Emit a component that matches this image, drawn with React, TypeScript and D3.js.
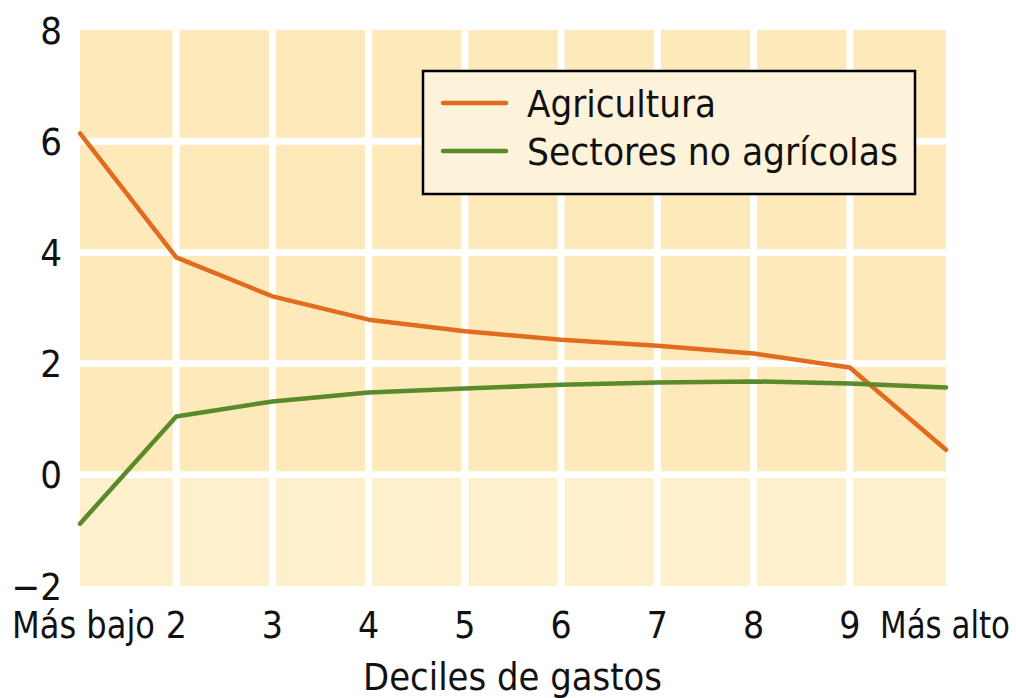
import React from 'react';
import * as d3 from 'd3';

const deciles = ['Más bajo', '2', '3', '4', '5', '6', '7', '8', '9', 'Más alto'];
const agricultura = [6.14, 3.91, 3.21, 2.79, 2.58, 2.43, 2.32, 2.18, 1.93, 0.45];
const noAgricolas = [-0.88, 1.05, 1.32, 1.48, 1.55, 1.62, 1.66, 1.68, 1.64, 1.57];
const yTicks = [8, 6, 4, 2, 0, -2];
const seriesNames = ['Agricultura', 'Sectores no agrícolas'];
const seriesColors = ['#e36b20', '#5a8a2b'];

const W = 1016;
const H = 698;
const margin = { top: 30, right: 70, bottom: 112, left: 80 };
const FONT = 'DejaVu Sans, sans-serif';

// widths of the condensed type in the reference, used to squeeze the text
const legendWidths = [189, 371];

export default function App() {
  const innerW = W - margin.left - margin.right;
  const innerH = H - margin.top - margin.bottom;

  const x = d3.scalePoint<string>().domain(deciles).range([0, innerW]);
  const y = d3.scaleLinear().domain([-2, 8]).range([innerH, 0]);

  const line = d3.line<number>()
    .x((_, i) => x(deciles[i]) as number)
    .y(d => y(d));

  const series = [agricultura, noAgricolas];
  const fmt = (v: number) => (v < 0 ? '\u2212' + Math.abs(v) : String(v));
  const textStyle = { fontFamily: FONT, fontStretch: 'condensed' as const };

  return (
    <div style={{ position: 'absolute', left: 0, top: 0 }}>
      <svg width={W} height={H} style={{ display: 'block', background: '#fff' }}>
        <g transform={`translate(${margin.left},${margin.top})`}>
          {/* fondo: más oscuro arriba de cero */}
          <rect x={0} y={0} width={innerW} height={y(0)} fill="#fde9b9" />
          <rect x={0} y={y(0)} width={innerW} height={innerH - y(0)} fill="#fef0cd" />

          {/* grid blanco */}
          {yTicks.filter(t => t > -2 && t < 8).map(t => (
            <line key={'h' + t} x1={0} x2={innerW} y1={y(t)} y2={y(t)} stroke="#fff" strokeWidth={7} />
          ))}
          {deciles.slice(1, -1).map(d => (
            <line key={'v' + d} x1={x(d)} x2={x(d)} y1={0} y2={innerH} stroke="#fff" strokeWidth={7} />
          ))}

          {series.map((s, i) => (
            <path key={i} d={line(s) || ''} fill="none" stroke={seriesColors[i]} strokeWidth={4.5}
              strokeLinejoin="round" strokeLinecap="round" />
          ))}

          {yTicks.map(t => (
            <text key={'yt' + t} x={-18} y={y(t)} dy="0.36em" textAnchor="end"
              style={textStyle} fontSize={38} fill="#111">{fmt(t)}</text>
          ))}

          {deciles.map((d, i) => {
            const first = i === 0;
            const last = i === deciles.length - 1;
            const px = x(d) as number;
            if (first || last) {
              return (
                <text key={'xt' + d} x={first ? px - 68 : px - 66} y={innerH + 52}
                  textLength={first ? 143 : 130} lengthAdjust="spacingAndGlyphs"
                  style={textStyle} fontSize={37} fill="#111">{d}</text>
              );
            }
            return (
              <text key={'xt' + d} x={px} y={innerH + 52} textAnchor="middle"
                style={textStyle} fontSize={37} fill="#111">{d}</text>
            );
          })}
          <text x={innerW / 2 - 150} y={innerH + 104} textLength={299} lengthAdjust="spacingAndGlyphs"
            style={textStyle} fontSize={37} fill="#111">
            Deciles de gastos
          </text>

          <g transform={`translate(${423 - margin.left},${71 - margin.top})`}>
            <rect x={0} y={0} width={492} height={123} fill="#fdf2da" stroke="#000" strokeWidth={2.5} />
            {seriesNames.map((n, i) => (
              <g key={n} transform={`translate(0,${32 + i * 48})`}>
                <line x1={20} x2={83} y1={0} y2={0} stroke={seriesColors[i]} strokeWidth={4.5} strokeLinecap="round" />
                <text x={104} y={0} dy="0.36em" textLength={legendWidths[i]} lengthAdjust="spacingAndGlyphs"
                  style={textStyle} fontSize={38} fill="#111">{n}</text>
              </g>
            ))}
          </g>
        </g>
      </svg>
    </div>
  );
}
